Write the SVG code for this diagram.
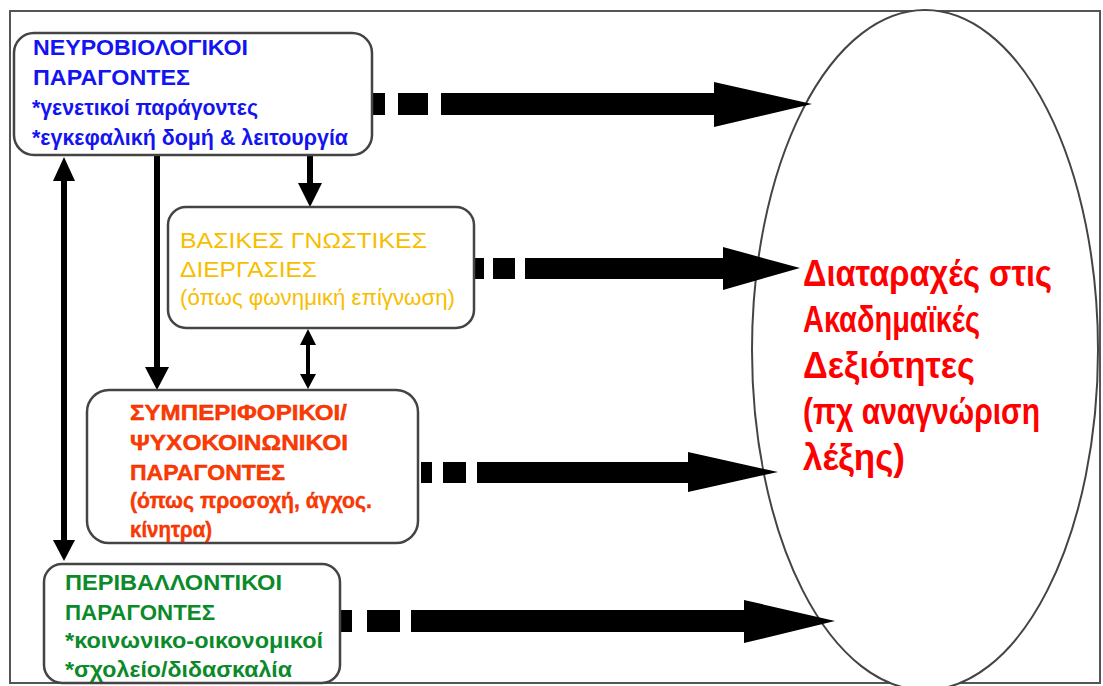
<svg xmlns="http://www.w3.org/2000/svg" width="1103" height="686" viewBox="0 0 1103 686">
<style>
  text { font-family: "Liberation Sans", "DejaVu Sans", sans-serif; }
  .box { fill: #ffffff; stroke: #444444; stroke-width: 2.5; }
  .t { font-size: 22px; }
  .blue { fill: #1414F0; font-weight: bold; }
  .yellow { fill: #F7BE00; }
  .orange { fill: #FF3A00; font-weight: bold; stroke: #E02800; stroke-width: 0.4; }
  .green { fill: #0B8A2A; font-weight: bold; }
  .red { fill: #FF0000; font-weight: bold; font-size: 36px; }
  .blk { fill: #000000; }
  .vline { stroke: #000000; fill: none; }
</style>
<rect x="0" y="0" width="1103" height="686" fill="#ffffff"/>
<rect x="10" y="11" width="1090" height="672" fill="none" stroke="#555555" stroke-width="2"/>

<g id="target">
  <ellipse cx="925" cy="350" rx="173" ry="340" fill="#ffffff" stroke="#444444" stroke-width="2"/>
  <text class="red" x="803" y="286" textLength="249" lengthAdjust="spacingAndGlyphs">Διαταραχές στις</text>
  <text class="red" x="803" y="332" textLength="177" lengthAdjust="spacingAndGlyphs">Ακαδημαϊκές</text>
  <text class="red" x="803" y="378" textLength="172" lengthAdjust="spacingAndGlyphs">Δεξιότητες</text>
  <text class="red" x="803" y="424" textLength="237" lengthAdjust="spacingAndGlyphs">(πχ αναγνώριση</text>
  <text class="red" x="803" y="470" textLength="102" lengthAdjust="spacingAndGlyphs">λέξης)</text>
</g>

<g id="connectors">
  <!-- arrow 1 -->
  <rect class="blk" x="370" y="93" width="15" height="22"/>
  <rect class="blk" x="398" y="93" width="30" height="22"/>
  <polygon class="blk" points="441,93 714,93 714,82 812,104 714,127 714,115 441,115"/>
  <!-- arrow 2 -->
  <rect class="blk" x="473" y="258" width="11" height="21"/>
  <rect class="blk" x="493" y="258" width="22" height="21"/>
  <polygon class="blk" points="525,258 723,258 723,247 800,268 723,290 723,279 525,279"/>
  <!-- arrow 3 -->
  <rect class="blk" x="421" y="462" width="11" height="21"/>
  <rect class="blk" x="443" y="462" width="23" height="21"/>
  <polygon class="blk" points="477,462 688,462 688,452 778,472 688,492 688,483 477,483"/>
  <!-- arrow 4 -->
  <rect class="blk" x="338" y="610" width="14" height="22"/>
  <rect class="blk" x="367" y="610" width="33" height="22"/>
  <polygon class="blk" points="411,610 744,610 744,600 835,621 744,643 744,632 411,632"/>

  <!-- double arrow left -->
  <line class="vline" x1="64" y1="178" x2="64" y2="544" stroke-width="6"/>
  <polygon class="blk" points="64,157 75,181 53,181"/>
  <polygon class="blk" points="64,561 75,540 53,540"/>
  <!-- line from box1 to box3 -->
  <line class="vline" x1="157" y1="156" x2="157" y2="370" stroke-width="6"/>
  <polygon class="blk" points="145,367 169,367 157,390"/>
  <!-- arrow from box1 to box2 -->
  <line class="vline" x1="310" y1="156" x2="310" y2="186" stroke-width="6"/>
  <polygon class="blk" points="298,183 322,183 310,207"/>
  <!-- double arrow between box2 and box3 -->
  <line class="vline" x1="308" y1="342" x2="308" y2="377" stroke-width="4"/>
  <polygon class="blk" points="308,329 316,345 300,345"/>
  <polygon class="blk" points="308,389 316,374 300,374"/>
</g>

<g id="neuro">
  <rect class="box" x="14" y="33" width="358" height="122" rx="20" ry="20"/>
  <text class="t blue" x="33" y="55" textLength="215" lengthAdjust="spacingAndGlyphs">ΝΕΥΡΟΒΙΟΛΟΓΙΚΟΙ</text>
  <text class="t blue" x="33" y="85" textLength="157" lengthAdjust="spacingAndGlyphs">ΠΑΡΑΓΟΝΤΕΣ</text>
  <text class="t blue" x="32" y="115" textLength="226" lengthAdjust="spacingAndGlyphs">*γενετικοί παράγοντες</text>
  <text class="t blue" x="32" y="145" textLength="316" lengthAdjust="spacingAndGlyphs">*εγκεφαλική δομή &amp; λειτουργία</text>
</g>

<g id="cognitive">
  <rect class="box" x="168" y="207" width="306" height="121" rx="18" ry="18"/>
  <text class="t yellow" x="180" y="248" textLength="247" lengthAdjust="spacingAndGlyphs">ΒΑΣΙΚΕΣ ΓΝΩΣΤΙΚΕΣ</text>
  <text class="t yellow" x="180" y="277" textLength="137" lengthAdjust="spacingAndGlyphs">ΔΙΕΡΓΑΣΙΕΣ</text>
  <text class="t yellow" x="180" y="305" textLength="275" lengthAdjust="spacingAndGlyphs">(όπως φωνημική επίγνωση)</text>
</g>

<g id="behavioral">
  <rect class="box" x="87" y="390" width="331" height="153" rx="22" ry="22"/>
  <text class="t orange" x="130" y="420" textLength="217" lengthAdjust="spacingAndGlyphs">ΣΥΜΠΕΡΙΦΟΡΙΚΟΙ/</text>
  <text class="t orange" x="130" y="450" textLength="218" lengthAdjust="spacingAndGlyphs">ΨΥΧΟΚΟΙΝΩΝΙΚΟΙ</text>
  <text class="t orange" x="130" y="480" textLength="155" lengthAdjust="spacingAndGlyphs">ΠΑΡΑΓΟΝΤΕΣ</text>
  <text class="t orange" x="130" y="508" textLength="242" lengthAdjust="spacingAndGlyphs">(όπως προσοχή, άγχος.</text>
  <text class="t orange" x="130" y="537" textLength="82" lengthAdjust="spacingAndGlyphs">κίνητρα)</text>
</g>

<g id="environmental">
  <rect class="box" x="44" y="564" width="296" height="119" rx="18" ry="18"/>
  <text class="t green" x="65" y="590" textLength="217" lengthAdjust="spacingAndGlyphs">ΠΕΡΙΒΑΛΛΟΝΤΙΚΟΙ</text>
  <text class="t green" x="65" y="620" textLength="150" lengthAdjust="spacingAndGlyphs">ΠΑΡΑΓΟΝΤΕΣ</text>
  <text class="t green" x="65" y="648" textLength="258" lengthAdjust="spacingAndGlyphs">*κοινωνικο-οικονομικοί</text>
  <text class="t green" x="65" y="677" textLength="227" lengthAdjust="spacingAndGlyphs">*σχολείο/διδασκαλία</text>
</g>
</svg>
